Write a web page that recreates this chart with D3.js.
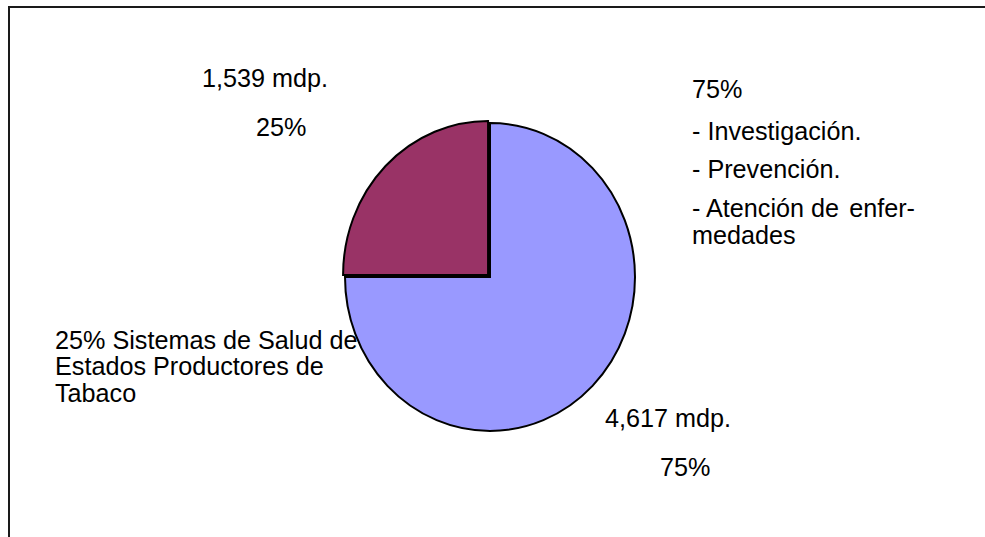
<!DOCTYPE html>
<html>
<head>
<meta charset="utf-8">
<script src="https://cdn.jsdelivr.net/npm/d3@7"></script>
<style>
  body { margin: 0; background: #fff; }
  text { font-family: "Liberation Sans", Arial, sans-serif; font-size: 25.2px; fill: #000; }
</style>
</head>
<body>
<div id="chart"></div>
<script>
// data
const names = ["Investigación, Prevención, Atención", "Sistemas de Salud de Estados Productores"];
const values = [4617, 1539];
const colors = ["#9999FF", "#993366"];

const W = 985, H = 537;
const svg = d3.select("#chart").append("svg")
  .attr("width", W).attr("height", H);

// frame (top and left only, the rest is cut off)
svg.append("path")
  .attr("d", "M9,537 L9,7 L985,7")
  .attr("fill", "none")
  .attr("stroke", "#1a1a1a")
  .attr("stroke-width", 2);

const cx = 490, cy = 277, rx = 145, ry = 154;
const R = 150;

const pie = d3.pie().sort(null).value(d => d)(values);
const arc = d3.arc().innerRadius(0).outerRadius(R);

const g = svg.append("g")
  .attr("transform", `translate(${cx},${cy}) scale(${rx / R},${ry / R})`);

g.selectAll("path")
  .data(pie)
  .join("path")
  .attr("d", arc)
  .attr("transform", (d, i) => i === 1 ? "translate(-2,-2)" : null)
  .attr("fill", (d, i) => colors[i])
  .attr("stroke", "#000")
  .attr("stroke-width", 2)
  .attr("stroke-linejoin", "miter")
  .attr("vector-effect", "non-scaling-stroke");

// labels
const fmt = d3.format(",");
const total = d3.sum(values);
const pct = v => Math.round(v / total * 100) + "%";

const addText = (x, y, s, anchor) => {
  svg.append("text")
    .attr("x", x).attr("y", y)
    .attr("text-anchor", anchor || "start")
    .text(s);
};

// small slice
addText(202, 87, fmt(values[1]) + " mdp.");
addText(256, 136, pct(values[1]));
addText(55, 349, pct(values[1]) + " Sistemas de Salud de");
addText(55, 375, "Estados Productores de");
addText(55, 402, "Tabaco");

// big slice
addText(692, 98, pct(values[0]));
addText(692, 140, "- Investigación.");
addText(692, 178, "- Prevención.");
addText(692, 217, "- Atención de");
addText(915, 217, "enfer-", "end");
addText(692, 244, "medades");
addText(605, 427, fmt(values[0]) + " mdp.");
addText(660, 476, pct(values[0]));
</script>
</body>
</html>
